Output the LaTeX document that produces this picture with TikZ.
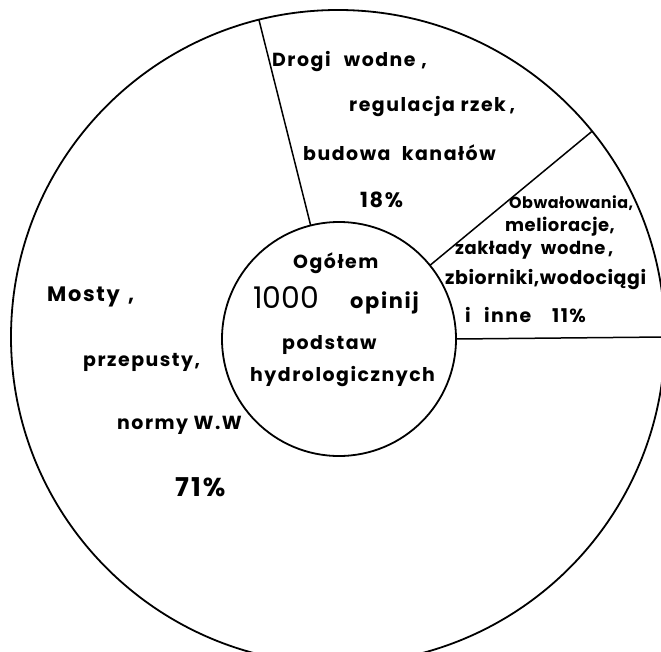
\documentclass[tikz,border=0pt]{standalone}
\usepackage{fontspec}
\setmainfont{Poppins}[LetterSpace=8]
\newfontfamily\tightfont{Poppins}[LetterSpace=3]
\newfontfamily\digitfont{Poppins}[LetterSpace=0]
\begin{document}
\begin{tikzpicture}[x=1bp,y=-1bp,
  ring/.style={circle,draw,line width=1.8bp,inner sep=0pt,outer sep=0pt},
  divider/.style={line width=1.5bp},
  lab/.style={anchor=west,inner sep=0pt,font=\bfseries\fontsize{19}{22}\selectfont},
  labs/.style={anchor=west,inner sep=0pt,font=\tightfont\bfseries\fontsize{18}{21}\selectfont},
  big/.style={anchor=west,inner sep=0pt,font=\digitfont\fontsize{30}{34}\selectfont}]
\useasboundingbox (0,0) rectangle (661,652);
\clip (0,0) rectangle (661,652);
\fill[white] (0,0) rectangle (661,652);
\node[ring,minimum size=654bp] (outer) at (338,337) {};
\node[ring,minimum size=234bp] (inner) at (339,339) {};
\draw[divider] (inner.104.4) -- (outer.104.4);
\draw[divider] (inner.39.6) -- (outer.39.6);
\draw[divider] (inner.0) -- (outer.0);
% sector 18%
\node[lab] (t1) at (272,62) {Drogi\hspace{0.7em}wodne\hspace{0.3em},};
\node[lab] (t2) at (349,107) {regulacja rzek\hspace{0.2em},};
\node[lab] (t3) at (303,153) {budowa\hspace{0.6em}kanałów};
\node[lab,font=\bfseries\fontsize{21}{24}\selectfont] (t4) at (360,200) {18\%};
% sector 11%
\node[labs,font=\tightfont\bfseries\fontsize{16}{19}\selectfont] (u1) at (509,203) {Obwałowania,};
\node[labs] (u2) at (505,227) {melioracje,};
\node[labs] (u3) at (455,250) {zakłady\hspace{0.5em}wodne\hspace{0.15em},};
\node[labs,font=\tightfont\bfseries\fontsize{19}{22}\selectfont] (u4) at (445,280) {zbiorniki,wodociągi};
\node[labs,font=\bfseries\fontsize{19}{22}\selectfont] (u5) at (465,315) {i\hspace{0.7em}inne\hspace{1.1em}11\%};
% sector 71%
\node[lab,font=\bfseries\fontsize{21}{24}\selectfont] (m1) at (47,297) {Mosty\hspace{0.4em},};
\node[lab] (m2) at (83,362) {przepusty,};
\node[lab] (m3) at (117,425) {normy W.W};
\node[lab,font=\bfseries\fontsize{26}{30}\selectfont] (m4) at (175,487) {71\%};
% centre
\node[lab] (c1) at (293,263) {Ogółem};
\node[big] (c2) at (253,298) {1000};
\node[lab,font=\bfseries\fontsize{21}{24}\selectfont] (c3) at (350,303) {opinij};
\node[lab] (c4) at (282,345) {podstaw};
\node[lab] (c5) at (250,377) {hydrologicznych};
\end{tikzpicture}
\end{document}
